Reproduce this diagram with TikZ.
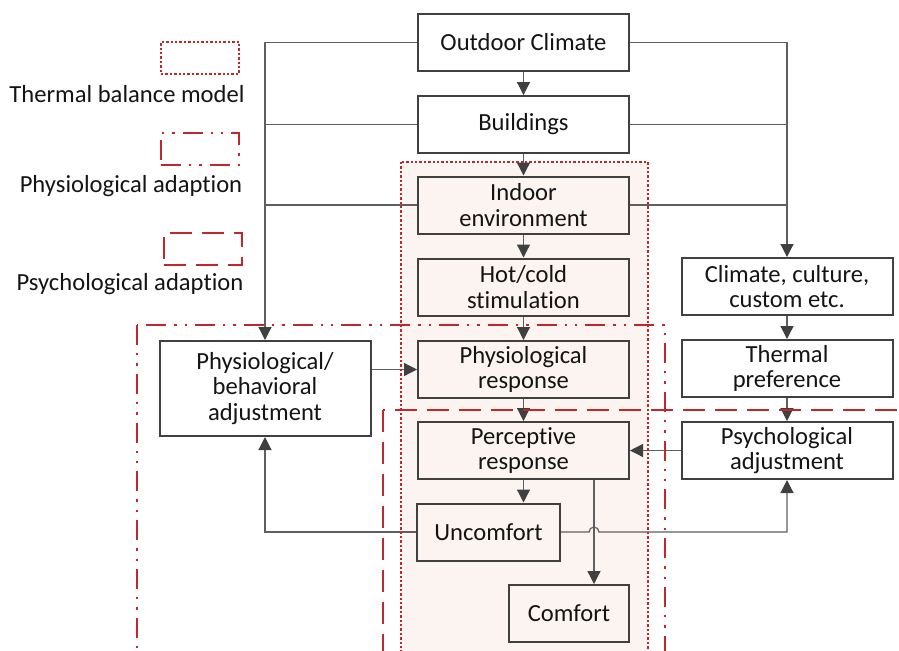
\documentclass[tikz,border=0pt]{standalone}
\usepackage{fontspec}
\setmainfont{Carlito}[Ligatures=NoCommon]
\usetikzlibrary{arrows.meta, positioning, calc}
\definecolor{framered}{RGB}{192,39,45}
\definecolor{boxgray}{RGB}{64,64,64}
\definecolor{linegray}{RGB}{95,95,95}
\definecolor{warmfill}{RGB}{252,244,240}

\begin{document}
\begin{tikzpicture}[x=0.5pt, y=-0.5pt,
  every node/.style={font=\fontsize{12.3}{12.9}\selectfont, text=black!92},
  blk/.style={draw=boxgray, line width=1pt, align=center, inner sep=0pt,
    minimum width=105.5pt, minimum height=28.5pt},
  conn/.style={draw=linegray, line width=0.6pt},
  arr/.style={conn, -{Triangle[length=6.5pt, width=6.5pt, color=boxgray]}},
  tbm/.style={draw=framered, line width=1.2pt, dash pattern=on 1.2pt off 1pt},
  physad/.style={draw=framered, line width=1.2pt,
    dash pattern=on 10pt off 4pt on 1.2pt off 4pt on 1.2pt off 4pt},
  psyad/.style={draw=framered, line width=1.3pt, dash pattern=on 11pt off 5pt}]
  \useasboundingbox (0,0) rectangle (899,650);
  \clip (0,0) rectangle (899,650);

  % thermal balance model area
  \fill[warmfill] (401,162) rectangle (648,680);

  % legend
  \node[tbm, minimum width=39pt, minimum height=16pt] (leg1) at (200,58) {};
  \node (leg1txt) at (127,94) {Thermal balance model};
  \node[physad, minimum width=39pt, minimum height=16pt] (leg2) at (200,149) {};
  \node (leg2txt) at (131,186) {Physiological adaption};
  \node[psyad, minimum width=39pt, minimum height=16pt] (leg3) at (203,249) {};
  \node (leg3txt) at (130,284) {Psychological adaption};

  % middle column
  \node[blk] (outdoor) at (523.5,42.5) {Outdoor Climate};
  \node[blk] (bldg) at (523.5,124.5) {Buildings};
  \node[blk] (indoor) at (523.5,205) {Indoor\\environment};
  \node[blk] (stim) at (523.5,287) {Hot/cold\\stimulation};
  \node[blk] (physresp) at (523.5,369.5) {Physiological\\response};
  \node[blk] (percresp) at (523.5,450.5) {Perceptive\\response};
  \node[blk, minimum width=71.5pt] (uncomf) at (488.5,532) {Uncomfort};
  \node[blk, minimum width=60pt] (comf) at (569,613.5) {Comfort};

  % side columns
  \node[blk, minimum height=47.5pt] (physadj) at (265,388.5) {Physiological/\\behavioral\\adjustment};
  \node[blk] (climate) at (787,286.5) {Climate, culture,\\custom etc.};
  \node[blk] (pref) at (787,368.5) {Thermal\\preference};
  \node[blk] (psyadj) at (787,450.5) {Psychological\\adjustment};

  % main chain
  \draw[arr] (outdoor) -- (bldg);
  \draw[arr] (bldg) -- (indoor);
  \draw[arr] (indoor) -- (stim);
  \draw[arr] (stim) -- (physresp);
  \draw[arr] (physresp) -- (percresp);
  \draw[arr] (percresp.south) -- (percresp.south |- uncomf.north);
  \coordinate (cut) at ([xshift=35.25pt]percresp.south);
  \draw[arr] (cut) -- (cut |- comf.north);

  % left branch
  \draw[arr] (outdoor.west) -| (physadj.north);
  \draw[conn] (bldg.west) -- (bldg.west -| physadj.north);
  \draw[conn] (indoor.west) -- (indoor.west -| physadj.north);
  \draw[arr] (physadj.east |- physresp.west) -- (physresp.west);
  \draw[arr] (uncomf.west) -| (physadj.south);

  % right branch
  \draw[arr] (outdoor.east) -| (climate.north);
  \draw[conn] (bldg.east) -- (bldg.east -| climate.north);
  \draw[conn] (indoor.east) -- (indoor.east -| climate.north);
  \draw[arr] (climate) -- (pref);
  \draw[arr] (pref) -- (psyadj);
  \draw[arr] (psyadj) -- (percresp);
  \draw[arr] (uncomf.east) -- ([xshift=-2.5pt]cut |- uncomf.east)
    arc[start angle=180, end angle=360, radius=5] -| (psyadj.south);

  % adaption frames
  \draw[tbm] (401,162) rectangle (648,680);
  \draw[physad] (137,325) rectangle (665,690);
  \draw[psyad] (383,410) rectangle (920,690);
\end{tikzpicture}
\end{document}
